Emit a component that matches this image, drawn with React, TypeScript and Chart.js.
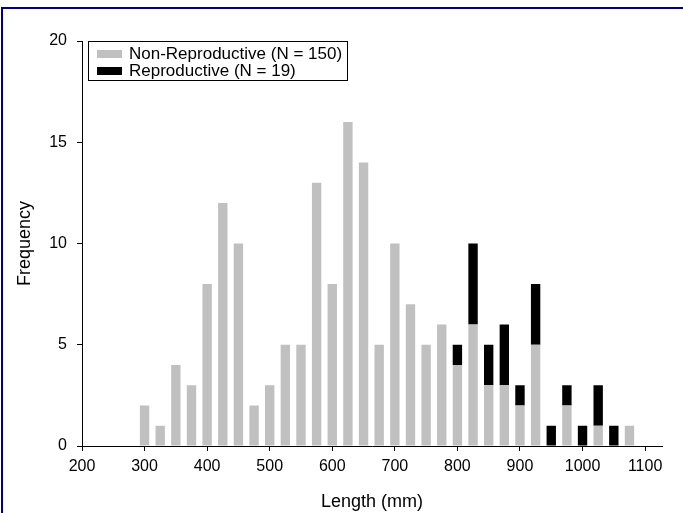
import React, { useEffect, useRef } from "react";
import { Chart, registerables } from "chart.js";

Chart.register(...registerables);

const lengths = [300, 325, 350, 375, 400, 425, 450, 475, 500, 525, 550, 575, 600, 625, 650, 675, 700, 725, 750, 775, 800, 825, 850, 875, 900, 925, 950, 975, 1000, 1025, 1050, 1075];
const nonReproductive = [2, 1, 4, 3, 8, 12, 10, 2, 3, 5, 5, 13, 8, 16, 14, 5, 10, 7, 5, 6, 4, 6, 3, 3, 2, 5, 0, 2, 0, 1, 0, 1];
const reproductive = [0, 0, 0, 0, 0, 0, 0, 0, 0, 0, 0, 0, 0, 0, 0, 0, 0, 0, 0, 0, 1, 4, 2, 3, 1, 3, 1, 1, 1, 2, 1, 0];
const xTicks = [200, 300, 400, 500, 600, 700, 800, 900, 1000, 1100];
const yTicks = [0, 5, 10, 15, 20];
const seriesLabels = ["Non-Reproductive (N = 150)", "Reproductive (N = 19)"];
const seriesColors = ["#c0c0c0", "#000000"];

const FONT = "Arial, 'Liberation Sans', sans-serif";

const legendBox = {
  id: "legendBox",
  afterDraw(chart: any) {
    const ctx = chart.ctx;
    const a = chart.chartArea;
    const x = a.left + 6;
    const y = a.top;
    const w = 259;
    const h = 39;
    ctx.save();
    ctx.strokeStyle = "#000";
    ctx.lineWidth = 1;
    ctx.strokeRect(Math.round(x) + 0.5, Math.round(y) + 0.5, w, h);
    ctx.font = `17px ${FONT}`;
    ctx.textBaseline = "middle";
    ctx.textAlign = "left";
    chart.data.datasets.forEach((ds: any, i: number) => {
      const ry = y + 9 + i * 17;
      ctx.fillStyle = ds.backgroundColor;
      ctx.fillRect(x + 9, ry, 25, 8);
      ctx.fillStyle = "#000";
      ctx.fillText(ds.label, x + 41, ry + 4.5);
    });
    ctx.restore();
  },
};

export default function App() {
  const ref = useRef<HTMLCanvasElement | null>(null);

  useEffect(() => {
    if (!ref.current) return;
    const chart = new Chart(ref.current, {
      type: "bar",
      data: {
        datasets: [
          {
            label: seriesLabels[0],
            data: lengths.map((x, i) => ({ x, y: nonReproductive[i] })),
            backgroundColor: seriesColors[0],
            borderWidth: 0,
            barPercentage: 0.6,
            categoryPercentage: 1,
          },
          {
            label: seriesLabels[1],
            data: lengths.map((x, i) => ({ x, y: reproductive[i] })),
            backgroundColor: seriesColors[1],
            borderWidth: 0,
            barPercentage: 0.6,
            categoryPercentage: 1,
          },
        ],
      },
      options: {
        animation: false,
        responsive: false,
        maintainAspectRatio: false,
        layout: { padding: { top: 41, right: 21, left: 0, bottom: 0 } },
        plugins: { legend: { display: false }, tooltip: { enabled: false } },
        scales: {
          x: {
            type: "linear",
            min: 200,
            max: 1127,
            offset: false,
            stacked: true,
            afterBuildTicks: (s: any) => {
              s.ticks = xTicks.map((v) => ({ value: v }));
            },
            afterFit: (s: any) => {
              s.height = 67;
            },
            grid: { display: true, offset: false, drawOnChartArea: false, drawTicks: true, tickLength: 5, color: "#000" },
            border: { display: true, color: "#000", width: 1 },
            ticks: {
              color: "#000",
              font: { family: FONT, size: 16 },
              padding: 6,
              maxRotation: 0,
              autoSkip: false,
              callback: (v: any) => String(v),
            },
            title: { display: true, text: "Length (mm)", color: "#000", font: { family: FONT, size: 18 }, padding: { top: 0, bottom: 0 } },
          },
          y: {
            type: "linear",
            min: 0,
            max: 20,
            stacked: true,
            afterBuildTicks: (s: any) => {
              s.ticks = yTicks.map((v) => ({ value: v }));
            },
            afterFit: (s: any) => {
              s.width = 82;
            },
            grid: { display: true, drawOnChartArea: false, drawTicks: true, tickLength: 5, color: "#000" },
            border: { display: true, color: "#000", width: 1 },
            ticks: { color: "#000", font: { family: FONT, size: 16 }, padding: 10, callback: (v: any) => String(v) },
            title: { display: true, text: "Frequency", color: "#000", font: { family: FONT, size: 18 }, padding: { top: 14, bottom: 0 } },
          },
        },
      },
      plugins: [legendBox],
    } as any);
    return () => chart.destroy();
  }, []);

  return (
    <div style={{ position: "fixed", left: 0, top: 0, width: 683, height: 513, background: "#fff", overflow: "hidden" }}>
      <div
        style={{
          position: "absolute",
          left: 1,
          top: 7,
          width: 720,
          height: 540,
          borderLeft: "2px solid #000080",
          borderTop: "2px solid #000080",
          boxSizing: "border-box",
        }}
      />
      <canvas ref={ref} width={683} height={513} style={{ position: "absolute", left: 0, top: 0 }} />
    </div>
  );
}
